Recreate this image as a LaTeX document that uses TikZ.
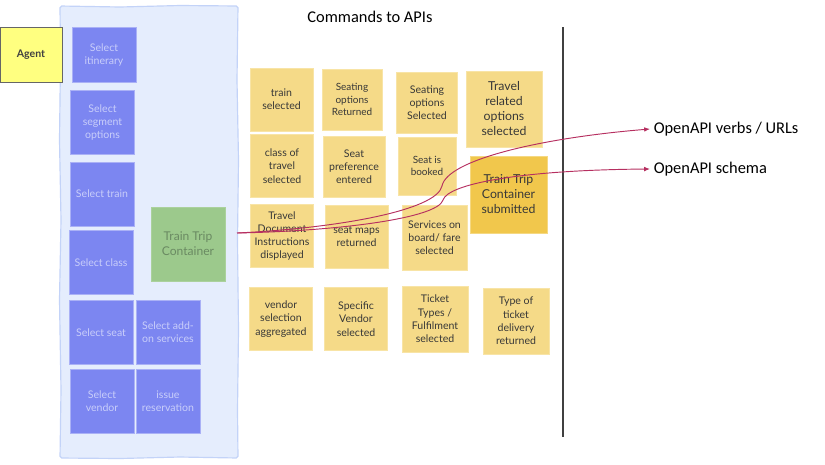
\documentclass[tikz,border=0pt]{standalone}
\usepackage{xcolor}
\usepackage{fontspec}
\setmainfont{Carlito}
\newfontfamily\notefont{Lato}
\usetikzlibrary{shapes,positioning,calc,arrows.meta,shadows}

\definecolor{panelfill}{HTML}{E5EDFD}
\definecolor{paneledge}{HTML}{C3D3F8}
\definecolor{cmdfill}{HTML}{7C86F1}
\definecolor{cmdtext}{HTML}{C9CEFA}
\definecolor{boxgreen}{HTML}{9CC98C}
\definecolor{boxgreentext}{HTML}{6A8A62}
\definecolor{notefill}{HTML}{F5DA88}
\definecolor{noteedge}{HTML}{F8E4A6}
\definecolor{notedark}{HTML}{F1C74C}
\definecolor{agentfill}{HTML}{FFFF80}
\definecolor{linkred}{HTML}{B62F60}

\begin{document}
\begin{tikzpicture}[
    x=0.03cm, y=-0.03cm,
    cmd/.style={rectangle, fill=cmdfill, draw=cmdtext!60!cmdfill, line width=0.6pt, minimum width=1.92cm, minimum height=1.92cm, align=center, text=cmdtext, font=\notefont\fontsize{9}{11.3}\selectfont, inner sep=1pt},
    note/.style={rectangle, fill=notefill, draw=noteedge, line width=0.6pt, minimum width=1.89cm, minimum height=1.89cm, align=center, text=black!78, font=\notefont\fontsize{9}{11.3}\selectfont, inner sep=1pt},
    bignote/.style={note, minimum width=2.28cm, minimum height=2.28cm, font=\notefont\fontsize{10.5}{12.8}\selectfont},
    label/.style={anchor=west, font=\fontsize{14}{16}\selectfont, inner sep=3pt},
    link/.style={linkred, line width=0.8pt, -{Latex[length=5pt,width=4pt]}}
]
    \useasboundingbox (0,0) rectangle (825,464);

    % agent lane
    \draw[paneledge, fill=panelfill, line width=1pt, rounded corners=1.5pt]
        (60,6) -- (120,7) -- (180,5.5) -- (238,6) -- (237,80) -- (238.5,160) -- (237.5,240)
        -- (238.5,330) -- (237.5,410) -- (238,458) -- (180,457) -- (120,458.5) -- (60,458)
        -- (61,390) -- (59.5,300) -- (61,220) -- (59.5,140) -- (60.5,60) -- cycle;
    \node[rectangle, fill=agentfill, draw=black!60, line width=0.4pt, drop shadow={shadow xshift=1.2pt, shadow yshift=-1.2pt, fill=black!45},
        minimum width=1.86cm, minimum height=1.65cm, font=\notefont\bfseries\fontsize{9}{11}\selectfont, text=black!75] (agent) at (31,54.5) {Agent};

    \node[cmd, minimum height=1.65cm] (itin) at (104,55) {Select\\itinerary};
    \node[cmd] (segment) at (102.5,122.5) {Select\\segment\\options};
    \node[cmd] (train) at (102,194) {Select train};
    \node[cmd] (class) at (101,262.5) {Select class};
    \node[cmd] (seat) at (101,332.5) {Select seat};
    \node[cmd] (addon) at (168,332.5) {Select add-\\on services};
    \node[cmd] (vendor) at (102,401.5) {Select\\vendor};
    \node[cmd] (issue) at (168,401.5) {issue\\reservation};

    \node[rectangle, fill=boxgreen, draw=boxgreen!85!white, minimum width=2.22cm, minimum height=2.22cm, align=center,
        text=boxgreentext, font=\notefont\fontsize{10.3}{12.8}\selectfont] (container) at (188,244) {Train Trip\\Container};

    \node[font=\fontsize{14}{16}\selectfont] (title) at (370,17) {Commands to APIs};
    \draw[black!75, line width=1.5pt] (563,27) -- (563,437);

    % events
    \node[note] (trainsel) at (281.5,99.5) {train\\selected};
    \node[note, minimum width=1.8cm, minimum height=1.83cm, font=\notefont\fontsize{8.5}{10.6}\selectfont] (seatret) at (352,99.5) {Seating\\options\\Returned};
    \node[note, minimum width=1.83cm, minimum height=1.83cm] (seatsel) at (427,102.5) {Seating\\options\\Selected};
    \node[bignote] (travelopt) at (504,109) {Travel\\related\\options\\selected};

    \node[note] (classsel) at (282,166) {class of\\travel\\selected};
    \node[note, minimum width=1.86cm, minimum height=1.83cm] (seatpref) at (354,166.5) {Seat\\preference\\entered};
    \node[note, minimum width=1.74cm, minimum height=1.74cm, font=\notefont\fontsize{8.5}{10.6}\selectfont] (booked) at (427,166) {Seat is\\booked};
    \node[bignote, fill=notedark, draw=notedark!70!white, minimum width=2.31cm, minimum height=2.31cm] (submitted) at (508.5,194.5) {Train Trip\\Container\\submitted};

    \node[note] (traveldoc) at (282,236) {Travel\\Document\\Instructions\\displayed};
    \node[note] (seatmaps) at (356.5,236.5) {seat maps\\returned};
    \node[note, minimum width=1.95cm, minimum height=1.95cm] (services) at (434.5,237.5) {Services on\\board/ fare\\selected};

    \node[note] (vendoragg) at (281,319) {vendor\\selection\\aggregated};
    \node[note] (specific) at (356,319) {Specific\\Vendor\\selected};
    \node[note, minimum width=1.98cm, minimum height=1.98cm] (tickettype) at (435,319) {Ticket\\Types /\\Fulfilment\\selected};
    \node[note, minimum width=1.98cm, minimum height=1.98cm] (delivery) at (516,321) {Type of\\ticket\\delivery\\returned};

    % API outputs
    \node[label] (verbs) at (650,129) {OpenAPI verbs / URLs};
    \node[label] (schema) at (650,169) {OpenAPI schema};

    \coordinate (tail) at (237,233);
    \draw[link] (tail) .. controls (340,228) and (437,210) .. (442,186)
        .. controls (447,160) and (540,138) .. (verbs.west);
    \draw[link] (tail) .. controls (340,231) and (438,218) .. (443,200)
        .. controls (448,184) and (520,170) .. (schema.west);

\end{tikzpicture}
\end{document}
